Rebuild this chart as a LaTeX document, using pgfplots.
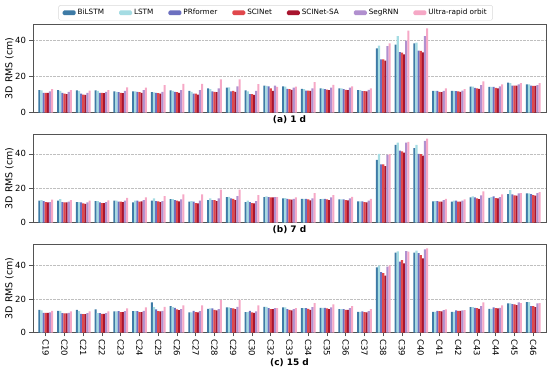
\documentclass[border=0pt]{standalone}
\usepackage{fontspec}
\setmainfont{DejaVu Sans}
\usepackage{pgfplots}
\pgfplotsset{compat=1.18}
\usepackage{pgfplotstable}
\definecolor{cB}{RGB}{62,123,166}
\definecolor{cL}{RGB}{165,220,227}
\definecolor{cP}{RGB}{108,112,192}
\definecolor{cS}{RGB}{224,71,76}
\definecolor{cSA}{RGB}{168,20,46}
\definecolor{cG}{RGB}{177,144,207}
\definecolor{cU}{RGB}{246,168,198}

\pgfplotstableread{
x b l p s sa g u
0 12.5 12.3 11.0 11.0 11.0 11.8 13.0
1 12.5 12.0 11.0 10.5 10.3 11.5 12.5
2 12.3 12.0 10.5 10.0 9.8 11.0 12.2
3 12.3 12.0 11.0 11.0 10.8 11.5 12.5
4 11.8 11.5 11.3 11.0 10.8 12.0 14.0
5 11.8 11.7 11.5 11.3 11.0 12.5 13.8
6 11.3 11.2 11.0 10.8 10.5 11.5 15.3
7 12.3 12.0 11.5 11.3 11.0 12.5 16.0
8 12.0 11.5 10.5 10.5 10.0 12.5 16.0
9 13.5 13.0 11.8 11.5 11.3 13.5 18.5
10 13.8 14.0 11.8 12.0 11.5 14.5 18.5
11 12.3 11.8 10.3 10.3 9.8 12.0 15.8
12 15.0 14.8 14.5 13.5 12.0 15.0 14.3
13 14.6 14.4 13.1 13.0 12.6 13.9 14.4
14 13.1 13.0 12.2 12.2 12.0 13.5 16.9
15 13.5 13.3 13.0 12.8 12.4 13.9 15.4
16 13.5 13.5 13.0 12.6 12.4 13.9 14.6
17 12.4 12.4 11.9 11.9 11.7 12.6 13.5
18 35.7 37.2 29.6 29.6 28.9 37.0 38.5
19 37.8 42.6 33.7 33.3 32.4 40.0 45.6
20 38.5 38.9 34.4 34.3 33.5 42.6 46.9
21 12.0 12.0 12.0 11.5 11.3 12.0 13.5
22 12.0 12.0 11.9 11.7 11.5 12.2 13.0
23 14.4 14.4 13.7 13.5 13.1 15.2 17.4
24 14.3 14.3 14.3 13.7 13.5 14.6 15.7
25 16.7 16.3 15.0 15.0 15.0 15.7 16.3
26 15.7 15.6 15.0 14.8 14.8 15.2 16.3
}\tabA

\pgfplotstableread{
x b l p s sa g u
0 12.7 13.0 12.5 11.9 11.7 11.9 13.3
1 12.7 13.6 11.9 11.7 11.7 12.1 13.0
2 11.9 11.9 11.7 11.1 10.9 11.7 12.7
3 12.5 12.5 11.7 11.3 11.3 11.9 12.9
4 12.7 12.7 12.1 12.1 11.9 12.7 14.4
5 11.7 12.7 12.7 12.1 12.3 13.0 14.6
6 12.7 14.0 12.5 12.3 11.9 12.5 15.4
7 13.6 13.6 13.0 12.7 12.3 13.5 16.4
8 12.1 12.5 12.1 11.3 11.1 12.7 16.4
9 13.0 14.0 13.0 13.0 12.5 14.0 19.1
10 14.8 15.0 14.0 13.8 13.0 15.4 19.1
11 11.9 12.7 11.9 11.3 11.1 12.5 16.0
12 14.8 15.2 14.8 14.6 14.6 14.8 14.8
13 14.0 14.2 13.8 13.5 13.3 13.8 14.6
14 13.8 13.8 13.8 13.5 12.9 14.0 17.2
15 13.6 13.8 13.8 13.5 13.0 14.6 16.0
16 13.5 13.5 13.5 13.0 12.9 14.0 15.0
17 12.3 12.3 12.3 11.9 11.7 12.7 13.8
18 36.5 40.0 33.9 33.9 32.9 39.4 39.8
19 45.2 46.6 41.9 41.5 40.7 46.6 47.0
20 43.3 45.2 40.0 39.8 39.0 47.6 48.9
21 12.3 12.5 12.5 12.1 12.1 13.0 13.8
22 12.1 12.7 12.7 12.1 12.1 12.7 13.5
23 14.6 15.2 14.6 14.0 13.6 15.8 18.1
24 14.4 14.8 15.2 14.2 14.0 14.8 16.4
25 16.6 18.9 16.4 15.8 15.6 17.0 17.2
26 17.0 17.0 16.6 16.0 15.6 17.2 17.7
}\tabB

\pgfplotstableread{
x b l p s sa g u
0 13.6 13.2 11.8 11.8 11.8 12.0 13.0
1 13.0 13.0 11.6 11.4 11.4 11.8 12.6
2 13.6 12.8 11.2 11.0 11.0 11.6 12.6
3 13.8 11.6 11.6 11.2 11.2 11.6 12.6
4 12.6 12.6 12.8 12.2 12.2 12.8 14.4
5 12.8 12.8 12.8 12.2 12.2 13.0 15.0
6 18.0 15.2 13.8 12.8 12.6 13.0 15.4
7 15.8 15.2 14.8 13.8 13.4 14.0 16.2
8 12.0 12.0 13.0 12.2 12.0 12.8 16.2
9 14.2 14.4 14.4 13.6 13.2 14.0 19.4
10 15.0 15.0 14.6 14.4 14.0 15.4 19.6
11 12.2 12.2 13.0 12.0 11.8 12.6 16.2
12 15.4 15.4 14.6 14.0 14.0 14.6 14.6
13 15.0 15.0 14.0 13.6 13.2 14.0 14.6
14 14.6 14.6 14.6 14.2 13.6 15.2 17.6
15 14.8 14.8 14.8 14.4 14.0 15.0 16.8
16 14.0 14.0 14.0 13.6 13.6 14.6 15.8
17 12.4 12.4 12.6 12.2 12.0 12.8 14.0
18 39.0 40.0 36.2 35.6 34.0 39.4 40.2
19 47.8 48.6 42.4 43.4 41.4 48.8 48.4
20 47.8 49.0 47.6 46.4 44.4 49.8 50.4
21 12.4 12.4 13.0 12.8 12.6 13.4 13.8
22 12.4 12.4 13.2 13.0 13.0 13.2 13.4
23 15.2 15.2 14.8 14.6 14.2 15.8 18.0
24 14.2 14.2 15.0 14.6 14.4 14.8 16.2
25 17.4 17.4 17.0 16.8 16.4 18.0 17.6
26 18.2 18.2 15.8 15.8 15.2 17.4 17.6
}\tabC

\tikzset{plab/.style={anchor=north, font=\fontsize{9}{11}\selectfont\bfseries}}

\pgfplotsset{
  panel/.style={
    scale only axis, width=513bp, height=88.5bp,
    xmin=-0.68, xmax=26.68, ymin=0, clip=false,
    ybar=0pt, bar width=0.114,
    ytick={0,20,40},
    ymajorgrids, grid style={densely dotted, gray!50, line width=0.5pt},
    axis line style={gray!65!black, line width=0.7pt},
    tick style={gray!65!black, line width=0.6pt},
    major tick length=3.5bp,
    tick align=outside, ytick pos=left, xtick pos=bottom,
    /pgf/number format/assume math mode=true,
    ticklabel style={font=\fontsize{8.5}{10}\selectfont},
    ylabel={3D RMS (cm)},
    ylabel style={font=\fontsize{9.5}{11}\selectfont, at={(axis description cs:-0.0458,0.5)}, anchor=center},
    every axis plot/.append style={draw=none},
  },
  nolab/.style={xtick=\empty},
}

\newcommand{\bars}[1]{%
  \addplot[fill=cB]  table[x=x,y=b]  {#1};
  \addplot[fill=cL]  table[x=x,y=l]  {#1};
  \addplot[fill=cP]  table[x=x,y=p]  {#1};
  \addplot[fill=cS]  table[x=x,y=s]  {#1};
  \addplot[fill=cSA] table[x=x,y=sa] {#1};
  \addplot[fill=cG]  table[x=x,y=g]  {#1};
  \addplot[fill=cU]  table[x=x,y=u]  {#1};
}

\begin{document}
\begin{tikzpicture}
\useasboundingbox (-33bp,24bp) rectangle (517bp,-347bp);
\begin{axis}[panel, nolab, ymax=49.3, at={(0,0)}, anchor=north west,
  legend style={at={(0.473,1.0)}, anchor=south, yshift=3.5bp, legend columns=7,
    draw=gray!30, rounded corners=1.5pt, font=\fontsize{7.3}{8.5}\selectfont,
    inner ysep=2pt, inner xsep=4pt,
    /tikz/every even column/.append style={column sep=13bp}},
  legend image code/.code={\fill[#1] (0bp,-2.4bp) rectangle (13bp,2.4bp);},
]
\bars{\tabA}
\legend{BiLSTM, LSTM, PRformer, SCINet, SCINet-SA, SegRNN, Ultra-rapid orbit}
\node[plab] at (rel axis cs:0.5,0) {(a) 1 d};
\end{axis}
\begin{axis}[panel, nolab, ymax=51.6, at={(0,-110bp)}, anchor=north west]
\bars{\tabB}
\node[plab] at (rel axis cs:0.5,0) {(b) 7 d};
\end{axis}
\begin{axis}[panel, ymax=53, at={(0,-220bp)}, anchor=north west,
  xtick={0,...,26},
  xticklabels={C19,C20,C21,C22,C23,C24,C25,C26,C27,C28,C29,C30,C32,C33,C34,C35,C36,C37,C38,C39,C40,C41,C42,C43,C44,C45,C46},
  xticklabel style={rotate=-90, anchor=west},
]
\bars{\tabC}
\node[plab, yshift=-23bp] at (rel axis cs:0.5,0) {(c) 15 d};
\end{axis}
\end{tikzpicture}
\end{document}
